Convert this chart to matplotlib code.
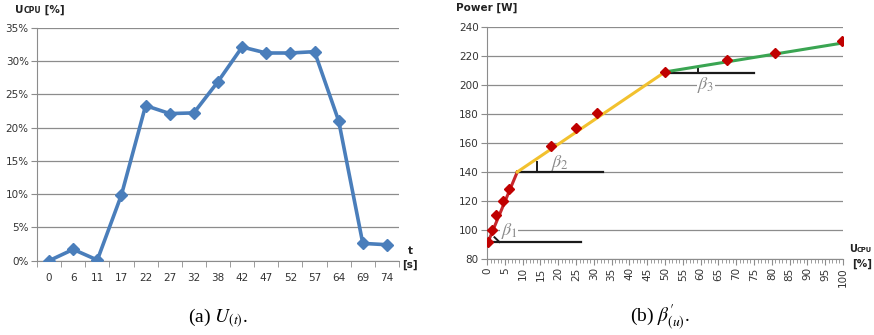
import numpy as np
import matplotlib
matplotlib.use('Agg')
import matplotlib.pyplot as plt

plt.rcParams['mathtext.fontset'] = 'stix'

# CPU utilisation over time
t_labels = ['0', '6', '11', '17', '22', '27', '32', '38', '42', '47', '52', '57', '64', '69', '74']
u_cpu = [0.0, 1.7, 0.1, 9.9, 23.3, 22.1, 22.2, 26.9, 32.1, 31.2, 31.2, 31.4, 21.0, 2.6, 2.4]

# measured power vs utilisation
meas_u = [0.3, 1.5, 2.5, 4.5, 6.3, 18.0, 25.0, 31.0, 50.0, 67.5, 81.0, 99.7]
meas_p = [92, 100, 110, 120, 128, 158, 170, 181, 209, 217, 222, 230]

# piecewise linear fit
seg1_u, seg1_p = [0.0, 8.5], [90, 140]
seg2_u, seg2_p = [8.5, 50.0], [140, 209]
seg3_u, seg3_p = [50.0, 100.0], [209, 229]

# horizontal reference lines for the slope angles
ref1_u, ref1_p = [0.0, 26.5], [91.5, 91.5]
ref2_u, ref2_p = [8.5, 32.5], [140, 140]
ref3_u, ref3_p = [50.0, 75.0], [208.5, 208.5]

grid_col = '#8c8c8c'
tick_col = '#333333'

fig = plt.figure(figsize=(8.74, 3.35), dpi=100)
W, H = 874.0, 335.0

# ---- left: U(t)
ax1 = fig.add_axes([37/W, 1 - 260.7/H, 362/W, 233/H])
x = np.arange(len(t_labels))
ax1.plot(x, u_cpu, color='#4a7ebb', lw=2.6, marker='D', ms=6, zorder=3)
ax1.set_xlim(-0.5, len(t_labels) - 0.5)
ax1.set_ylim(0, 35)
ax1.set_yticks(np.arange(0, 36, 5))
ax1.set_yticklabels(['%d%%' % v for v in range(0, 36, 5)])
ax1.set_xticks(x)
ax1.set_xticklabels(t_labels)
ax1.set_xticks(np.arange(-0.5, len(t_labels)), minor=True)
ax1.tick_params(axis='x', which='major', length=0, pad=9, labelsize=7.5, labelcolor=tick_col)
ax1.tick_params(axis='x', which='minor', length=4, color=grid_col)
ax1.tick_params(axis='y', length=4, color=grid_col, labelsize=7.5, labelcolor=tick_col, pad=2)
ax1.grid(axis='y', color=grid_col, lw=0.9)
ax1.set_axisbelow(True)
for s in ['top', 'right']:
    ax1.spines[s].set_visible(False)
for s in ['left', 'bottom']:
    ax1.spines[s].set_color(grid_col)

# ---- right: power vs utilisation
ax2 = fig.add_axes([487/W, 1 - 259/H, 356/W, 232/H])
ax2.plot(ref1_u, ref1_p, color='#1a1a1a', lw=1.6, zorder=3)
ax2.plot(ref2_u, ref2_p, color='#1a1a1a', lw=1.6, zorder=3)
ax2.plot(ref3_u, ref3_p, color='#1a1a1a', lw=1.6, zorder=3)
ax2.plot(seg1_u, seg1_p, color='#c8262b', lw=2.2, zorder=4)
ax2.plot(seg2_u, seg2_p, color='#f2c12e', lw=2.2, zorder=4)
ax2.plot(seg3_u, seg3_p, color='#3aa552', lw=2.2, zorder=4)
ax2.plot(meas_u, meas_p, ls='none', marker='D', ms=5, color='#c00000', zorder=5)

# angle marks
ax2.plot([2.1, 3.5], [95, 91.7], color='#1a1a1a', lw=1.4, zorder=3)
ax2.plot([14, 14], [140, 147], color='#1a1a1a', lw=1.4, zorder=3)
ax2.plot([59.4, 59.4], [208.5, 211.5], color='#1a1a1a', lw=1.4, zorder=3)
for bu, bp, lab in [(6.2, 99, r'$\beta_1$'), (20.5, 146, r'$\beta_2$'), (61.5, 200, r'$\beta_3$')]:
    ax2.text(bu, bp, lab, color='#8a8a8a', fontsize=13, ha='center', va='center',
             bbox=dict(fc='white', ec='none', pad=0.5), zorder=2)

ax2.set_xlim(0, 100)
ax2.set_ylim(80, 240)
ax2.set_yticks(np.arange(80, 241, 20))
ax2.set_xticks(np.arange(0, 101, 5))
ax2.set_xticks(np.arange(0, 101, 1), minor=True)
ax2.tick_params(axis='x', which='major', length=4, color=grid_col, labelrotation=90,
                labelsize=7.5, labelcolor=tick_col, pad=2)
ax2.tick_params(axis='x', which='minor', length=3, color=grid_col)
ax2.tick_params(axis='y', length=4, color=grid_col, labelsize=7.5, labelcolor=tick_col, pad=2)
ax2.grid(axis='y', color=grid_col, lw=0.9)
ax2.set_axisbelow(True)
for s in ['top', 'right']:
    ax2.spines[s].set_visible(False)
for s in ['left', 'bottom']:
    ax2.spines[s].set_color(grid_col)

# axis names in the corners
renderer = fig.canvas.get_renderer()
lab = dict(fontweight='bold', color='#222222', va='baseline')


def run_text(px, py, parts):
    # parts: (string, fontsize); laid out left to right from pixel (px, py) baseline
    for s, size in parts:
        t = fig.text(px / W, 1 - py / H, s, fontsize=size, **lab)
        px += t.get_window_extent(renderer).width


run_text(15, 13, [('U', 7.5), ('CPU', 5.5), (' [%]', 7.5)])
fig.text(410/W, 1 - 251/H, 't', fontsize=7.5, va='center', ha='center', fontweight='bold', color='#222222')
fig.text(410/W, 1 - 265/H, '[s]', fontsize=7.5, va='center', ha='center', fontweight='bold', color='#222222')
fig.text(456/W, 1 - 8/H, 'Power [W]', fontsize=7.5, va='center', fontweight='bold', color='#222222')
run_text(849, 252, [('U', 7), ('CPU', 4.8)])
fig.text(862/W, 1 - 264/H, '[%]', fontsize=7.5, va='center', ha='center', fontweight='bold', color='#222222')

# captions
cap = dict(fontsize=14, family='Liberation Serif', va='center', ha='center')
fig.text(218/W, 1 - 318/H, r'(a) $U_{(t)}$.', **cap)
fig.text(660/W, 1 - 318/H, r"(b) $\beta^{\prime}_{(u)}$.", **cap)

fig.savefig('out.png', dpi=100)
